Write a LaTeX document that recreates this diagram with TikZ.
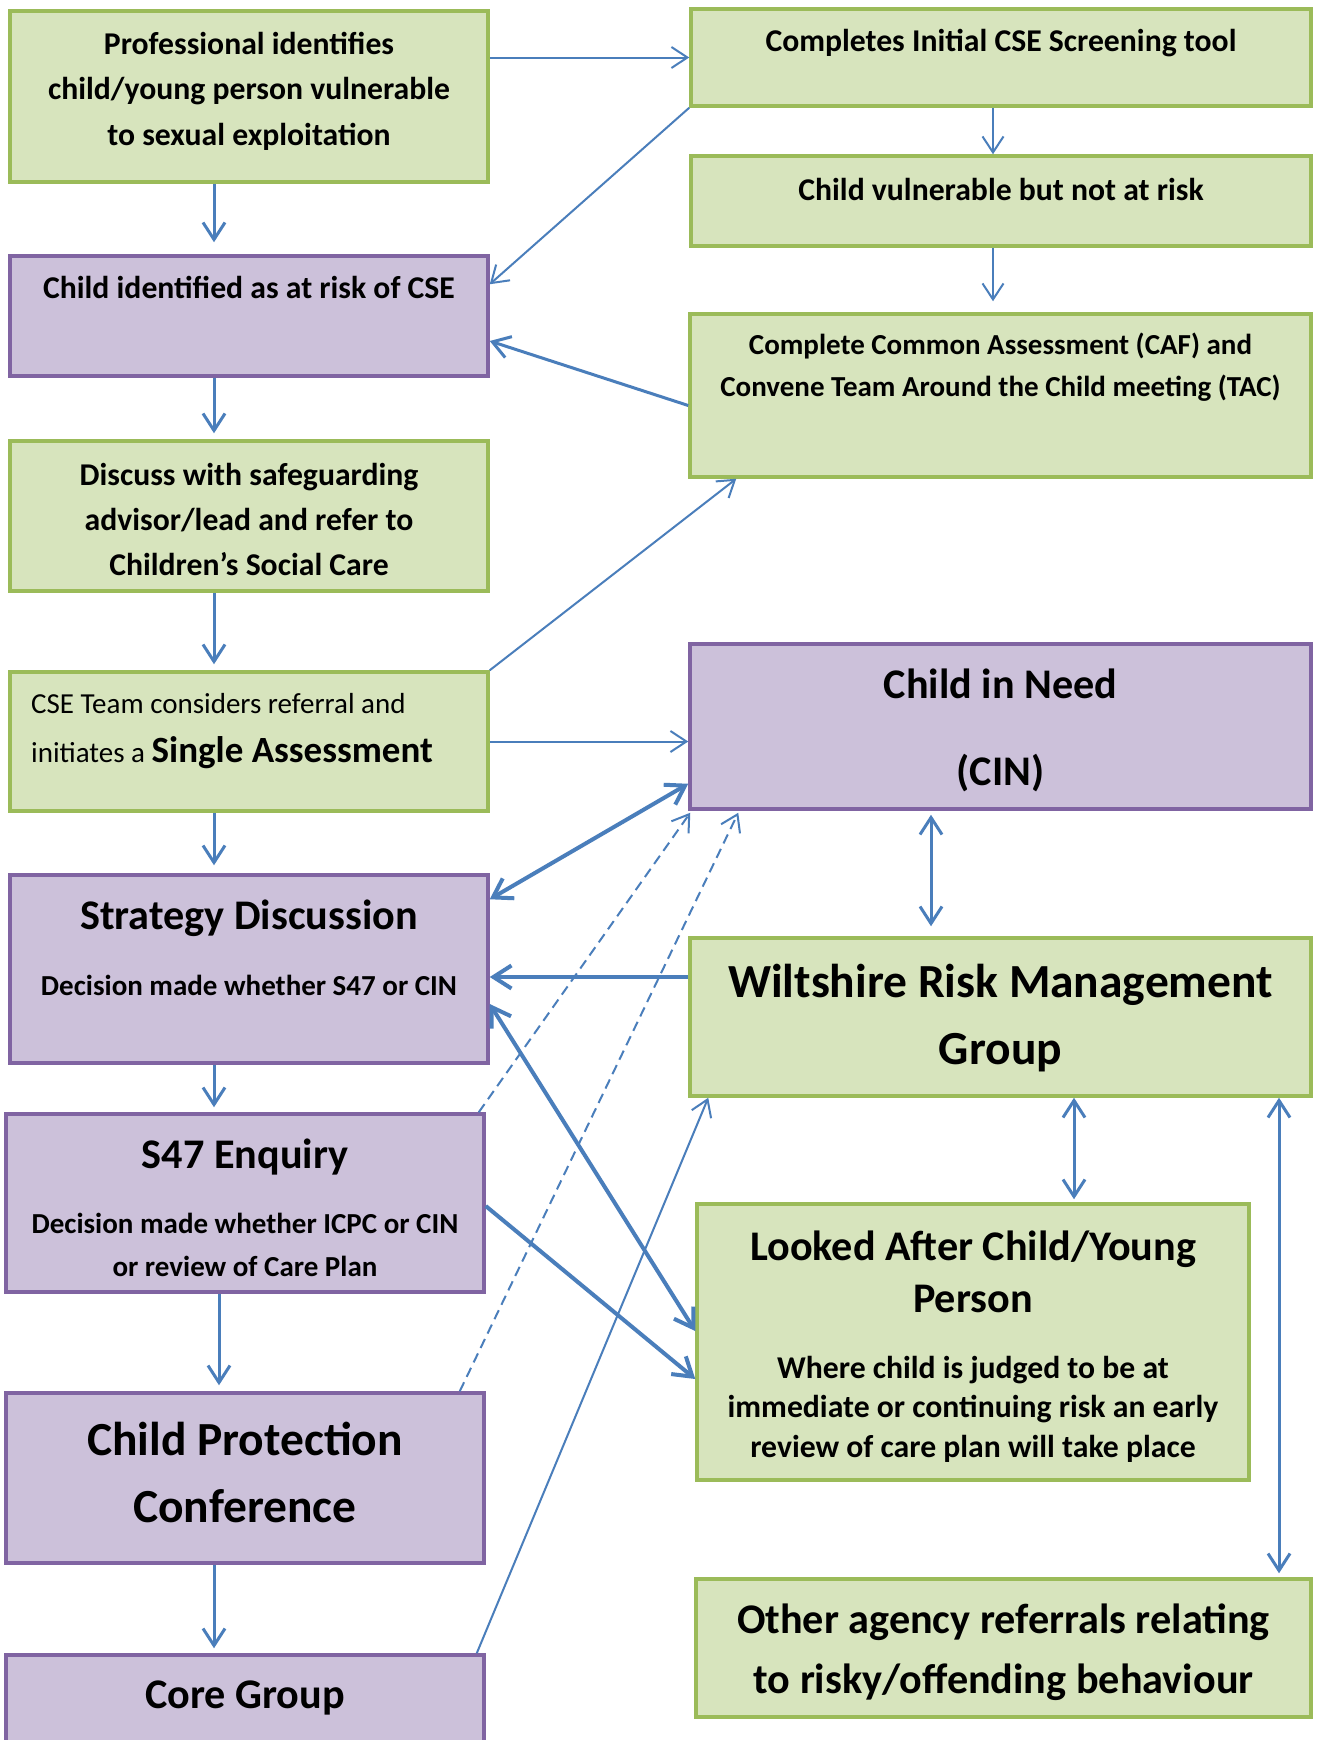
\documentclass[tikz,border=0pt]{standalone}
\usepackage{fontspec}
\setmainfont{Carlito}
\usetikzlibrary{arrows.meta}

\definecolor{lgreen}{HTML}{D7E4BD}
\definecolor{dgreen}{HTML}{9BBB59}
\definecolor{lpurple}{HTML}{CCC1DA}
\definecolor{dpurple}{HTML}{8064A2}
\definecolor{lineblue}{HTML}{4A7EBB}

\newcommand{\fs}[2]{\fontsize{#1}{#2}\selectfont\bfseries}

\begin{document}
\begin{tikzpicture}
            [x=1pt,y=-1pt,>={Straight Barb[length=14pt 1,width=19pt 1]},
             gbox/.style={rectangle,draw=dgreen,fill=lgreen,line width=3.5pt,inner sep=0pt},
             pbox/.style={rectangle,draw=dpurple,fill=lpurple,line width=3.5pt,inner sep=0pt},
             txt/.style={align=center,inner sep=0pt},
             lnk/.style={draw=lineblue,line width=2pt,->},
             lnkm/.style={lnk,line width=3pt},
             lnkt/.style={lnk,line width=4pt},
             dsh/.style={lnk,dash pattern=on 10pt off 6pt}]
            \path[fill=white,use as bounding box] (0,0) rectangle (1319,1740);

            % left column
            \node[gbox,minimum width=478pt,minimum height=171pt] (prof) at (249,96.5) {};
            \node[pbox,minimum width=478pt,minimum height=120pt] (risk) at (249,316) {};
            \node[gbox,minimum width=478pt,minimum height=150pt] (disc) at (249,516) {};
            \node[gbox,minimum width=478pt,minimum height=139pt] (team) at (249,741.5) {};
            \node[pbox,minimum width=478pt,minimum height=188pt] (strat) at (249,969) {};
            \node[pbox,minimum width=478pt,minimum height=178pt] (s47) at (245,1203) {};
            \node[pbox,minimum width=478pt,minimum height=170pt] (cpc) at (245,1478) {};
            \node[pbox,minimum width=478pt,minimum height=90pt] (core) at (245,1700) {};

            % right column
            \node[gbox,minimum width=620pt,minimum height=97pt] (screen) at (1001,57.5) {};
            \node[gbox,minimum width=620pt,minimum height=90pt] (vuln) at (1001,201) {};
            \node[gbox,minimum width=621pt,minimum height=163pt] (caf) at (1000.5,395.5) {};
            \node[pbox,minimum width=621pt,minimum height=165pt] (cin) at (1000.5,726.5) {};
            \node[gbox,minimum width=621pt,minimum height=158pt] (wrmg) at (1000.5,1017) {};
            \node[gbox,minimum width=552pt,minimum height=276pt] (lac) at (973,1342) {};
            \node[gbox,minimum width=615pt,minimum height=138pt] (other) at (1003.5,1648) {};

            % texts
            \node[txt,font=\fs{31.7}{45.5}] (prof-t) at (249,91) {Professional identifies\\child/young person vulnerable\\to sexual exploitation};
            \node[txt,font=\fs{31.7}{45}] (risk-t) at (249,287) {Child identified as at risk of CSE};
            \node[txt,font=\fs{31.7}{45}] (disc-t) at (249,519) {Discuss with safeguarding\\advisor/lead and refer to\\Children’s Social Care};
            \node[txt,align=left,anchor=west,font=\fontsize{29}{49}\selectfont] (team-t) at (31,731)
                {CSE Team considers referral and\\initiates a {\fs{37}{49}Single Assessment}};
            \node[txt,font=\fs{42.2}{52}] (strat-t) at (249,918) {Strategy Discussion};
            \node[txt,font=\fs{29}{42}] (strat-s) at (249,985) {Decision made whether S47 or CIN};
            \node[txt,font=\fs{42.2}{52}] (s47-t) at (245,1157) {S47 Enquiry};
            \node[txt,font=\fs{29}{43}] (s47-s) at (245,1245) {Decision made whether ICPC or CIN\\or review of Care Plan};
            \node[txt,font=\fs{47.5}{67}] (cpc-t) at (245,1472) {Child Protection\\Conference};
            \node[txt,font=\fs{42.2}{52}] (core-t) at (245,1698) {Core Group};

            \node[txt,font=\fs{31.7}{45}] (screen-t) at (1001,43.5) {Completes Initial CSE Screening tool};
            \node[txt,font=\fs{31.7}{45}] (vuln-t) at (1001,189) {Child vulnerable but not at risk};
            \node[txt,font=\fs{29}{42}] (caf-t) at (1000.5,367) {Complete Common Assessment (CAF) and\\Convene Team Around the Child meeting (TAC)};
            \node[txt,font=\fs{42.2}{87}] (cin-t) at (1000.5,730) {Child in Need\\(CIN)};
            \node[txt,font=\fs{47.5}{67}] (wrmg-t) at (1000.5,1018.5) {Wiltshire Risk Management\\Group};
            \node[txt,font=\fs{42.2}{52}] (lac-t) at (973,1272) {Looked After Child/Young\\Person};
            \node[txt,font=\fs{31.7}{39.5}] (lac-s) at (973,1409) {Where child is judged to be at\\immediate or continuing risk an early\\review of care plan will take place};
            \node[txt,font=\fs{42.2}{60}] (other-t) at (1003.5,1652) {Other agency referrals relating\\to risky/offending behaviour};

            % connectors
            \draw[lnk] (prof.east |- screen.west) -- (screen.west);
            \draw[lnk] (screen.south west) -- ([yshift=-30pt]risk.north east);
            \draw[lnk] ([xshift=-8pt]screen.south) -- ([xshift=-8pt]vuln.north);
            \draw[lnk] ([xshift=-8pt]vuln.south) -- ([xshift=-7.5pt,yshift=11pt]caf.north);
            \draw[lnkm] ([yshift=-10pt]caf.west) -- ([yshift=-25pt]risk.east);
            \draw[lnkm] ([xshift=-35pt]prof.south) -- ([xshift=-35pt,yshift=12pt]risk.north);
            \draw[lnkm] ([xshift=-35pt]risk.south) -- ([xshift=-35pt,yshift=6pt]disc.north);
            \draw[lnkm] ([xshift=-35pt]disc.south) -- ([xshift=-35pt,yshift=6pt]team.north);
            \draw[lnk] (team.north east) -- ([xshift=48pt]caf.south west);
            \draw[lnk] (team.east) -- (team.east -| cin.west);
            \draw[lnkm] ([xshift=-35pt]team.south) -- ([xshift=-35pt,yshift=8pt]strat.north);
            \draw[lnkt,<->] ([yshift=-26pt]strat.north east) -- ([yshift=27pt]cin.south west);
            \draw[lnkt] ([yshift=40pt]wrmg.west) -- ([yshift=-8pt]strat.east);
            \draw[lnkm,<->] ([xshift=-69.5pt,yshift=-4pt]cin.south) -- ([xshift=-69.5pt,yshift=10pt]wrmg.north);
            \draw[lnkm] ([xshift=-35pt]strat.south) -- ([xshift=-31pt,yshift=5pt]s47.north);
            \draw[dsh] ([xshift=-7pt]s47.north east) -- ([xshift=2pt,yshift=-2pt]cin.south west);
            \draw[dsh] ([xshift=-26pt]cpc.north east) -- ([xshift=50pt,yshift=-2pt]cin.south west);
            \draw[lnkt,<->] ([yshift=-35pt]strat.east) -- ([yshift=11pt]lac.west);
            \draw[lnkt] ([yshift=-3pt]s47.east) -- ([yshift=-37pt]lac.west);
            \draw[lnk] ([xshift=-9pt]core.north east) -- ([xshift=20pt]wrmg.south west);
            \draw[lnkm,<->] ([xshift=73.5pt]wrmg.south) -- ([xshift=101pt,yshift=3pt]lac.north);
            \draw[lnkm,<->] ([xshift=278.5pt]wrmg.south) -- ([xshift=275.5pt,yshift=4pt]other.north);
            \draw[lnkm] ([xshift=-26pt]s47.south) -- ([xshift=-26pt,yshift=6pt]cpc.north);
            \draw[lnkm] ([xshift=-31pt]cpc.south) -- ([xshift=-31pt,yshift=5pt]core.north);

        \end{tikzpicture}
\end{document}
